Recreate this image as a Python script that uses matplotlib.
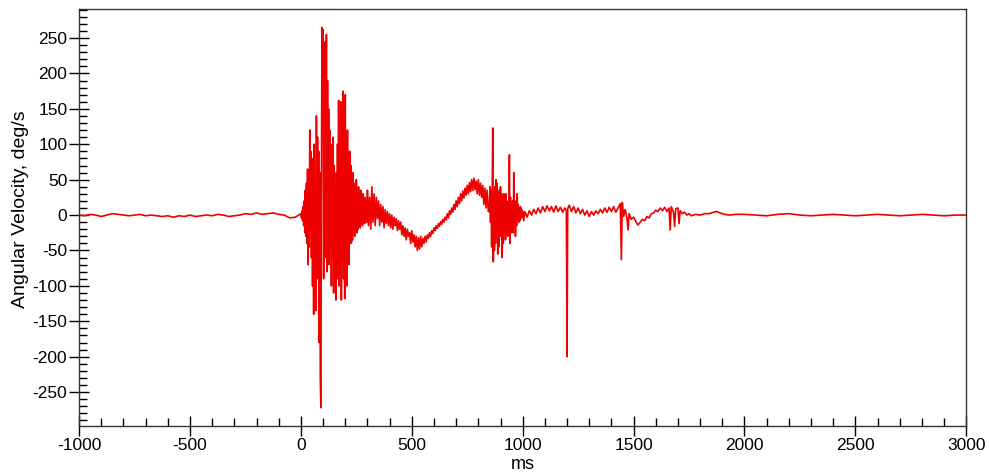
import numpy as np
import matplotlib.pyplot as plt
from matplotlib.ticker import MultipleLocator

plt.rcParams['font.family'] = ['Liberation Sans', 'DejaVu Sans']
plt.rcParams['axes.unicode_minus'] = False

# pre-impact baseline, every 25 ms
pre_t = np.arange(-1000, 0, 25)
pre_w = [0, -1, 1, 0, -2, 0, 2, 1, 0, -1, 0, 1, -1, 0, -1, -2, -1, -3, -1, -2,
         0, -2, -1, 0, -1, 1, 0, -2, -1, 0, 2, 1, 3, 1, 2, 3, 1, 0, -4, -3]

# impact burst, every 2.5 ms (0..297.5)
hit_t = np.arange(0, 300, 2.5)
hit_w = [2, -4, 6, -8, 12, -15, 20, -25, 35, -30,
         45, -40, 65, -70, 50, -45, 120, -20, 90, -60,
         80, -100, 60, -140, 100, -80, 40, -135, 140, -60,
         110, -90, 90, -180, 60, -230, -272, 40, 265, 150,
         262, -90, 200, -60, 245, 20, 255, -80, 190, -50,
         150, -70, 120, -40, 100, -100, 90, -60, 110, -110,
         70, -80, 40, -120, 60, -40, 100, -90, 162, -100,
         130, -80, 160, -120, 120, -60, 175, -90, 150, -118,
         170, -80, 110, -100, 120, -50, 80, -70, 90, -30,
         70, -40, 55, -35, 60, -20, 40, -30, 45, -15,
         50, -25, 35, -20, 40, -10, 30, -18, 35, -8,
         25, -15, 30, -10, 22, -12, 25, -8, 20, -10]

# settling and rebound, every 5 ms (300..845)
reb_t = np.arange(300, 850, 5)
reb_w = [35, -15, 25, -20, 40, -10, 30, -15, 25, -5,
         20, -15, 15, -10, 12, -18, 8, -12, 5, -15,
         2, -18, 0, -20, -3, -15, -5, -22, -8, -20,
         -10, -28, -15, -30, -18, -35, -20, -30, -25, -40,
         -22, -38, -28, -45, -30, -50, -32, -48, -30, -45,
         -33, -40, -30, -38, -28, -33, -25, -30, -22, -26,
         -18, -22, -15, -19, -12, -16, -9, -13, -6, -10,
         -3, -7, 2, -4, 6, 1, 10, 4, 15, 8,
         20, 12, 25, 16, 30, 20, 34, 24, 38, 28,
         42, 30, 46, 33, 50, 35, 52, 36, 48, 30,
         50, 28, 45, 25, 42, 15, 38, 10, 35, 5]

# second burst, every 2.5 ms (850..1000)
sec_t = np.arange(850, 1001, 2.5)
sec_w = [5, 40, -10, 35, -45, 30, 123, -66, 30, -50,
         40, -40, 50, -30, 45, -55, 20, -45, 35, -30,
         40, -25, 30, -60, 25, -40, 30, -20, 25, -35,
         30, -25, 15, -30, 20, -20, 85, -40, 25, -25,
         15, -15, 20, -25, 60, -10, 15, -30, 20, -15,
         30, -5, 15, -10, 10, -8, 12, -5, 8, -3,
         5]

# late transients (uneven sampling)
late_t = [1005, 1010, 1020, 1030, 1040, 1050, 1060, 1070, 1080, 1090,
          1100, 1110, 1120, 1130, 1140, 1150, 1160, 1170, 1180, 1190,
          1197, 1200, 1203, 1210, 1220, 1230, 1240, 1250, 1260, 1270,
          1280, 1290, 1300, 1310, 1320, 1330, 1340, 1350, 1360, 1370,
          1380, 1390, 1400, 1410, 1420, 1430, 1440, 1445, 1449, 1455,
          1462, 1470, 1475, 1480, 1490, 1500, 1510, 1520, 1530, 1540,
          1550, 1560, 1570, 1580, 1590, 1600, 1610, 1620, 1630, 1640,
          1650, 1660, 1665, 1670, 1680, 1685, 1690, 1700, 1705, 1710,
          1720, 1730, 1740, 1750, 1760, 1780, 1800, 1820, 1840, 1860,
          1875, 1890, 1910, 1930, 1960]
late_w = [-8, 5, -3, 6, 0, 8, 2, 10, 3, 12,
          5, 13, 6, 12, 4, 13, 5, 11, 4, 10,
          6, -200, 9, 14, 5, 12, 3, 10, 2, 8,
          0, 6, -2, 5, 0, 6, 2, 8, 3, 10,
          4, 11, 5, 12, 4, 10, 16, -63, 18, -2,
          8, -4, -21, 2, -6, -3, -9, -14, -10, -6,
          -8, -2, -4, 2, 3, 7, 5, 10, 6, 11,
          5, 10, -21, 12, 4, -16, 9, 10, -12, 6,
          2, 4, 0, 2, -1, 1, 0, 2, 2, 4,
          5, 3, 1, 0, 1]

# post-event baseline
post_t = np.arange(2000, 3050, 50)
post_w = [1, 0, -1, 1, 2, 0, -1, 0, 1, 0, -1, 0, 1, 0, -1, 0, 1, 0, -1, 0, 0]

t = np.concatenate([pre_t, hit_t, reb_t, sec_t, late_t, post_t])
w = np.concatenate([pre_w, hit_w, reb_w, sec_w, late_w, post_w])

fig = plt.figure(figsize=(9.89, 4.75), dpi=100)
ax = fig.add_axes([0.080, 0.103, 0.897, 0.878])
ax.plot(t, w, color='#ee0000', lw=1.2)

ax.set_xlim(-1000, 3000)
ax.set_ylim(-298, 291)
ax.xaxis.set_major_locator(MultipleLocator(500))
ax.xaxis.set_minor_locator(MultipleLocator(100))
ax.yaxis.set_major_locator(MultipleLocator(50))
ax.yaxis.set_minor_locator(MultipleLocator(10))
ax.tick_params(which='major', direction='inout', length=15, width=1, labelsize=12.5, pad=1)
ax.tick_params(which='minor', direction='in', length=6, width=1)
for s in ax.spines.values():
    s.set_linewidth(1.0)
    s.set_color('#333333')

ax.set_xlabel('ms', fontsize=13, labelpad=2)
ax.set_ylabel('Angular Velocity, deg/s', fontsize=14)
ax.yaxis.set_label_coords(-0.057, 0.52)

fig.savefig('out.png', dpi=100)
